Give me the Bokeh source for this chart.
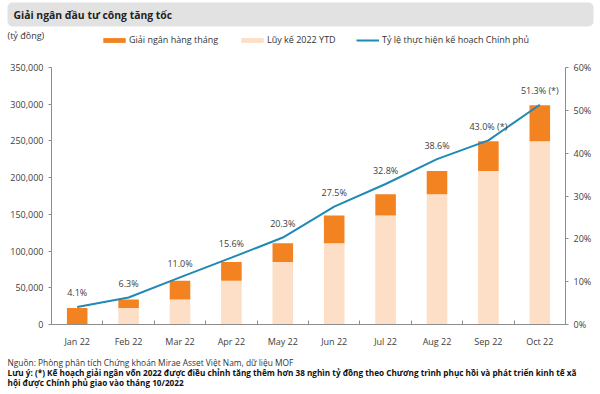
from bokeh.plotting import figure
from bokeh.layouts import column
from bokeh.models import (Range1d, LinearAxis, FixedTicker, NumeralTickFormatter, PrintfTickFormatter,
                          ColumnDataSource, LabelSet, Label, BoxAnnotation, Legend, LegendItem)
from bokeh.core.properties import value
from bokeh.embed import file_html
from bokeh.resources import INLINE

# ---- data ----
months = ["Jan 22", "Feb 22", "Mar 22", "Apr 22", "May 22", "Jun 22",
          "Jul 22", "Aug 22", "Sep 22", "Oct 22"]
luy_ke = [0, 22600, 34000, 59500, 85000, 110500, 148500, 177500, 209000, 249500]
hang_thang = [22600, 11400, 25500, 25500, 25500, 38000, 29000, 31500, 40500, 49000]
ty_le = [4.1, 6.3, 11.0, 15.6, 20.3, 27.5, 32.8, 38.6, 43.0, 51.3]
ty_le_labels = ["4.1%", "6.3%", "11.0%", "15.6%", "20.3%", "27.5%", "32.8%",
                "38.6%", "43.0% (*)", "51.3% (*)"]
y_ticks = [0, 50000, 100000, 150000, 200000, 250000, 300000, 350000]
pct_ticks = [0, 10, 20, 30, 40, 50, 60]

title_text = "Giải ngân đầu tư công tăng tốc"
unit_text = "(tỷ đồng)"
legend_labels = ["Giải ngân hàng tháng", "Lũy kế 2022 YTD", "Tỷ lệ thực hiện kế hoạch Chính phủ"]
source_text = "Nguồn: Phòng phân tích Chứng khoán Mirae Asset Việt Nam, dữ liệu MOF"
note_lines = ["Lưu ý: (*) Kế hoạch giải ngân vốn 2022 được điều chỉnh tăng thêm hơn 38 nghìn tỷ đồng theo Chương trình phục hồi và phát triển kinh tế xã",
              "hội được Chính phủ giao vào tháng 10/2022"]

FONT = "Open Sans"
ORANGE = "#F38220"
LIGHT = "#FDDEC6"
BLUE = "#2089B5"
AXIS = "#8c8c8c"
TXT = "#404040"

W = 600
H_HEAD, H_MAIN, H_FOOT = 58, 292, 44

xs = [i + 0.5 for i in range(len(months))]
src = ColumnDataSource(dict(x=xs, luy_ke=luy_ke, hang_thang=hang_thang, pct=ty_le, lbl=ty_le_labels))


def blank(h):
    f = figure(width=W, height=h, x_range=Range1d(0, W), y_range=Range1d(h, 0),
               output_backend="svg", toolbar_location=None, x_axis_location=None, y_axis_location=None,
               min_border=0, min_border_left=0, min_border_right=0, min_border_top=0, min_border_bottom=0)
    f.outline_line_color = None
    f.xgrid.visible = False
    f.ygrid.visible = False
    return f


# ---------- header ----------
head = blank(H_HEAD)
head.add_layout(BoxAnnotation(left=7, right=593, top=2, bottom=26, fill_color="#e2e2e2", fill_alpha=1,
                              line_color=None, border_radius=5))
head.add_layout(Label(x=13, y=14, text=title_text, text_font=FONT, text_font_style="bold",
                      text_font_size="10.4px", text_color="#222222", text_baseline="middle"))
head.add_layout(Label(x=7, y=35, text=unit_text, text_font=FONT, text_font_size="9px",
                      text_color="#333333", text_baseline="middle"))

# hidden legend proxies carrying the series styles
k_orange = head.vbar(x="x", top="hang_thang", width=0.4, fill_color=ORANGE, line_color=None,
                     source=src, visible=False)
k_light = head.vbar(x="x", top="luy_ke", width=0.4, fill_color=LIGHT, line_color=None,
                    source=src, visible=False)
k_line = head.line(x="x", y="pct", line_color=BLUE, line_width=2, source=src, visible=False)


def mk_legend(fig, label, rend, loc, gw, standoff):
    lg = Legend(items=[LegendItem(label=label, renderers=[rend])], location=loc, orientation="horizontal",
                padding=0, margin=0, spacing=0, glyph_width=gw, glyph_height=6, label_height=6,
                label_standoff=standoff, border_line_color=None, background_fill_alpha=0,
                inactive_fill_alpha=0,
                label_text_font=FONT, label_text_font_size="9px", label_text_color="#333333")
    fig.add_layout(lg, "center")


mk_legend(head, legend_labels[0], k_orange, (100, 12), 28, 1)
mk_legend(head, legend_labels[1], k_light, (238, 12), 28, 1)
mk_legend(head, legend_labels[2], k_line, (356, 12), 23, 3)

# ---------- main chart ----------
p = figure(width=W, height=H_MAIN, x_range=Range1d(0, len(months)), y_range=Range1d(0, 350000),
           output_backend="svg", toolbar_location=None,
           min_border_left=51, min_border_right=35, min_border_top=9, min_border_bottom=25)
p.outline_line_color = None
p.xgrid.visible = False
p.ygrid.visible = False

bars = p.vbar_stack(["luy_ke", "hang_thang"], x="x", width=0.4, fill_color=[LIGHT, ORANGE],
                    line_color=None, source=src)

p.extra_y_ranges = {"pct": Range1d(0, 60)}
ln = p.line("x", "pct", y_range_name="pct", source=src, line_color=BLUE, line_width=2)

p.add_layout(LabelSet(x="x", y="pct", text="lbl", y_range_name="pct", y_offset=14, source=src,
                      text_align="center", text_baseline="middle", text_font=value(FONT),
                      text_font_size="9px", text_color=TXT))

xa = p.xaxis[0]
xa.ticker = FixedTicker(ticks=xs, minor_ticks=list(range(0, len(months) + 1)))
xa.major_label_overrides = {x: m for x, m in zip(xs, months)}
xa.major_tick_line_color = None
xa.minor_tick_line_color = AXIS
xa.minor_tick_in = 4
xa.minor_tick_out = 0
xa.axis_line_color = AXIS
xa.major_label_standoff = 4
xa.major_label_text_font = FONT
xa.major_label_text_font_size = "9px"
xa.major_label_text_color = TXT

ya = p.yaxis[0]
ya.ticker = FixedTicker(ticks=y_ticks)
ya.formatter = NumeralTickFormatter(format="0,0")
ya.minor_tick_line_color = None
ya.major_tick_in = 0
ya.major_tick_out = 3
ya.major_tick_line_color = AXIS
ya.axis_line_color = AXIS
ya.major_label_standoff = 5
ya.major_label_text_font = FONT
ya.major_label_text_font_size = "9px"
ya.major_label_text_color = TXT

ra = LinearAxis(y_range_name="pct", ticker=FixedTicker(ticks=pct_ticks),
                formatter=PrintfTickFormatter(format="%d%%"))
ra.minor_tick_line_color = None
ra.major_tick_in = 0
ra.major_tick_out = 3
ra.major_tick_line_color = AXIS
ra.axis_line_color = AXIS
ra.major_label_standoff = 5
ra.major_label_text_font = FONT
ra.major_label_text_font_size = "9px"
ra.major_label_text_color = TXT
p.add_layout(ra, "right")

# ---------- footer ----------
foot = blank(H_FOOT)
foot.add_layout(Label(x=7, y=12, text=source_text, text_font=FONT, text_font_size="8.4px",
                      text_color="#333333", text_baseline="middle"))
for i, t in enumerate(note_lines):
    foot.add_layout(Label(x=7, y=22 + 9.5 * i, text=t, text_font=FONT, text_font_style="bold",
                          text_font_size="8.2px", text_color="#111111", text_baseline="middle"))

layout = column(column(head), p, column(foot), spacing=0)
open("out.html", "w").write(file_html(layout, INLINE))
